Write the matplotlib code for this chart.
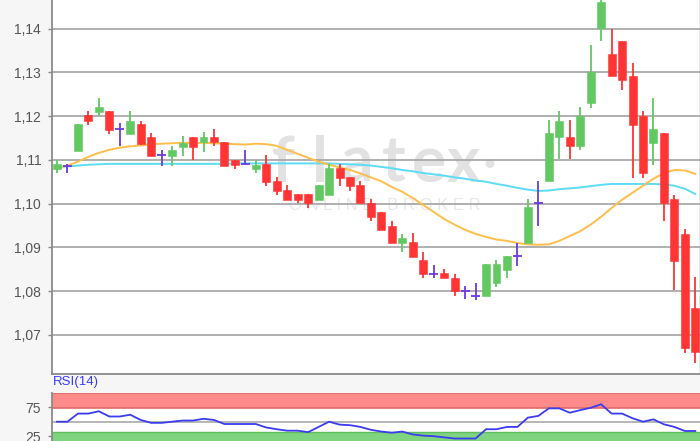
#!/usr/bin/env python3
"""Daily candlestick chart with two moving averages and an RSI(14) panel."""
import matplotlib
matplotlib.use("Agg")
import matplotlib.pyplot as plt  # noqa: E402
import numpy as np  # noqa: E402

# OHLC per session
opens = [1.1080, 1.1087, 1.1121, 1.1202, 1.1209, 1.1212, 1.1170, 1.1160, 1.1183, 1.1152,
         1.1112, 1.1109, 1.1129, 1.1152, 1.1140, 1.1152, 1.1140, 1.1100, 1.1090, 1.1079,
         1.1090, 1.1051, 1.1032, 1.1022, 1.1022, 1.1009, 1.1020, 1.1081, 1.1060, 1.1043,
         1.1001, 1.0981, 1.0950, 1.0910, 1.0912, 1.0871, 1.0839, 1.0841, 1.0831, 1.0801,
         1.0789, 1.0789, 1.0818, 1.0849, 1.0881, 1.0910, 1.1001, 1.1051, 1.1152, 1.1152,
         1.1131, 1.1231, 1.1402, 1.1342, 1.1371, 1.1291, 1.1201, 1.1138, 1.1161, 1.1010,
         1.0930, 1.0761]
highs = [1.1100, 1.1091, 1.1183, 1.1211, 1.1241, 1.1212, 1.1184, 1.1212, 1.1190, 1.1161,
         1.1123, 1.1132, 1.1154, 1.1152, 1.1163, 1.1170, 1.1140, 1.1100, 1.1123, 1.1100,
         1.1112, 1.1061, 1.1043, 1.1022, 1.1022, 1.1043, 1.1091, 1.1091, 1.1060, 1.1052,
         1.1010, 1.0981, 1.0961, 1.0931, 1.0932, 1.0890, 1.0860, 1.0850, 1.0839, 1.0812,
         1.0818, 1.0862, 1.0871, 1.0881, 1.0910, 1.1010, 1.1052, 1.1192, 1.1212, 1.1192,
         1.1221, 1.1363, 1.1480, 1.1400, 1.1371, 1.1322, 1.1212, 1.1241, 1.1161, 1.1020,
         1.0942, 1.0833]
lows = [1.1071, 1.1071, 1.1120, 1.1180, 1.1201, 1.1159, 1.1131, 1.1160, 1.1135, 1.1109,
        1.1087, 1.1087, 1.1108, 1.1100, 1.1119, 1.1131, 1.1087, 1.1079, 1.1090, 1.1070,
        1.1041, 1.1020, 1.1009, 1.1001, 1.0990, 1.1009, 1.1020, 1.1041, 1.1029, 1.1001,
        1.0961, 1.0940, 1.0910, 1.0889, 1.0879, 1.0830, 1.0830, 1.0831, 1.0789, 1.0781,
        1.0780, 1.0789, 1.0810, 1.0830, 1.0858, 1.0910, 1.0950, 1.1051, 1.1102, 1.1102,
        1.1122, 1.1218, 1.1371, 1.1291, 1.1260, 1.1058, 1.1058, 1.1089, 1.0961, 1.0803,
        1.0658, 1.0636]
closes = [1.1091, 1.1087, 1.1182, 1.1188, 1.1221, 1.1168, 1.1170, 1.1190, 1.1137, 1.1109,
          1.1112, 1.1123, 1.1138, 1.1129, 1.1152, 1.1140, 1.1087, 1.1089, 1.1090, 1.1089,
          1.1049, 1.1029, 1.1009, 1.1009, 1.1001, 1.1043, 1.1081, 1.1058, 1.1041, 1.1001,
          1.0970, 1.0940, 1.0910, 1.0921, 1.0879, 1.0839, 1.0839, 1.0831, 1.0801, 1.0801,
          1.0789, 1.0862, 1.0862, 1.0881, 1.0881, 1.0992, 1.1001, 1.1161, 1.1190, 1.1131,
          1.1201, 1.1300, 1.1460, 1.1291, 1.1282, 1.1180, 1.1070, 1.1170, 1.1001, 1.0869,
          1.0669, 1.0660]

# fast (orange) and slow (cyan) moving averages as drawn in the reference
ma_fast = [1.1082, 1.1087, 1.1096, 1.1107, 1.1116, 1.1123, 1.1128, 1.1131, 1.1133, 1.1136,
           1.1137, 1.1138, 1.1139, 1.1139, 1.1139, 1.1138, 1.1137, 1.1136, 1.1135, 1.1137,
           1.1136, 1.1132, 1.1123, 1.1114, 1.1105, 1.1096, 1.1089, 1.1083, 1.1077, 1.1069,
           1.1060, 1.1051, 1.1038, 1.1027, 1.1013, 1.0997, 1.0981, 1.0965, 1.0952, 1.0940,
           1.0931, 1.0924, 1.0918, 1.0915, 1.0910, 1.0907, 1.0906, 1.0907, 1.0915, 1.0926,
           1.0937, 1.0952, 1.0970, 1.0990, 1.1009, 1.1025, 1.1041, 1.1057, 1.1070, 1.1077,
           1.1076, 1.1068]
ma_slow = [1.1084, 1.1085, 1.1087, 1.1089, 1.1090, 1.1091, 1.1091, 1.1091, 1.1091, 1.1091,
           1.1091, 1.1091, 1.1091, 1.1091, 1.1091, 1.1091, 1.1091, 1.1092, 1.1092, 1.1092,
           1.1092, 1.1092, 1.1092, 1.1092, 1.1092, 1.1092, 1.1092, 1.1091, 1.1090, 1.1089,
           1.1087, 1.1084, 1.1081, 1.1077, 1.1074, 1.1070, 1.1067, 1.1064, 1.1060, 1.1057,
           1.1053, 1.1050, 1.1045, 1.1041, 1.1036, 1.1032, 1.1029, 1.1030, 1.1033, 1.1035,
           1.1037, 1.1040, 1.1043, 1.1045, 1.1045, 1.1045, 1.1045, 1.1045, 1.1044, 1.1041,
           1.1034, 1.1022]

rsi = [50, 50, 64, 64, 68, 59, 59, 62, 53, 48,
       48, 50, 52, 52, 55, 53, 46, 46, 46, 46,
       40, 37, 34.5, 34.5, 32, 41, 50, 45, 44, 41,
       36, 33, 31, 33, 28, 26, 25, 23, 21, 21,
       21, 37, 37, 41, 41, 57, 60, 73, 73, 65.5,
       70, 74, 80, 64, 64, 56, 50, 54, 45.5, 41,
       34, 34]

price_ticks = [1.07, 1.08, 1.09, 1.10, 1.11, 1.12, 1.13, 1.14]
rsi_ticks = [25, 75]

GREEN = "#62c862"
RED = "#ff3434"
DOJI = "#6a3cdc"
GRID = "#a9a9a9"
SPINE = "#8a8a8a"
LABEL = "#555555"
WATERMARK = "#e2e2e2"

FIG_W, FIG_H = 700, 441


def px_box(left, top, right, bottom):
    """Pixel box (top-left origin) -> figure-fraction rect."""
    return [left / FIG_W, 1 - bottom / FIG_H, (right - left) / FIG_W, (bottom - top) / FIG_H]


def draw_watermark(ax):
    # broker logo behind the candles; text lives in the axes so it sits on the white face
    fig = ax.figure
    for ch, xp in zip("flatex", (283, 320, 357, 394, 429, 464)):
        ax.text(xp / FIG_W, 1 - 163 / FIG_H, ch, transform=fig.transFigure,
                ha="center", va="center", fontsize=46, fontweight="bold",
                color=WATERMARK, zorder=0.5, family="Lato")
    ax.text(489 / FIG_W, 1 - 167 / FIG_H, "\u2022", transform=fig.transFigure,
            ha="center", va="center", fontsize=22, color=WATERMARK, zorder=0.5,
            family="DejaVu Sans")
    ax.text(385 / FIG_W, 1 - 206 / FIG_H, "O N L I N E   B R O K E R",
            transform=fig.transFigure, ha="center", va="center", fontsize=12,
            color="#e8e8e8", zorder=0.5)


def draw_candles(ax):
    x = np.arange(len(opens))
    o, h, lo, c = (np.array(v) for v in (opens, highs, lows, closes))
    colors = np.where(c > o, GREEN, np.where(c < o, RED, DOJI))

    ax.vlines(x, lo, h, colors=colors, lw=1.3, zorder=3)
    body = np.abs(c - o) > 0
    ax.bar(x[body], np.abs(c - o)[body], bottom=np.minimum(o, c)[body], width=0.76,
           color=colors[body], edgecolor=colors[body], lw=0.4, zorder=4)
    ax.hlines(c[~body], x[~body] - 0.42, x[~body] + 0.42, colors=DOJI, lw=1.3, zorder=4)


def main():
    plt.rcParams["font.family"] = ["Liberation Sans", "DejaVu Sans"]
    fig = plt.figure(figsize=(FIG_W / 100, FIG_H / 100), dpi=100)
    fig.patch.set_facecolor("#f6f6f6")

    # -- price panel -----------------------------------------------------------
    ax = fig.add_axes(px_box(52.3, -2, 699.5, 374.3))
    ax.set_facecolor("white")
    x = np.arange(len(opens))

    draw_watermark(ax)
    ax.plot(x, ma_slow, color="#5ddcf5", lw=1.4, zorder=2)
    ax.plot(x, ma_fast, color="#ffbe4a", lw=1.4, zorder=2)
    draw_candles(ax)

    ax.set_xlim(-0.45, 61.4)
    ax.set_ylim(1.0610, 1.1470)
    ax.set_yticks(price_ticks)
    ax.set_yticklabels([f"{t:.2f}".replace(".", ",") for t in price_ticks])
    ax.set_xticks([])
    ax.grid(True, axis="y", color=GRID, lw=1.3)
    ax.set_axisbelow(True)
    ax.tick_params(axis="y", length=3, width=1, color=SPINE, labelcolor=LABEL,
                   labelsize=10, pad=5)
    ax.spines["top"].set_visible(False)
    for side in ("left", "bottom", "right"):
        ax.spines[side].set_color(SPINE)
        ax.spines[side].set_linewidth(1.3)
    ax.spines["right"].set_linewidth(1.0)

    # -- RSI panel (bottom runs past the picture edge) -------------------------
    rx = fig.add_axes(px_box(52.3, 392.7, 699.5, 450.7))
    rx.set_facecolor("white")
    rx.axhspan(73.5, 100, color="#ff8a8a", lw=0, zorder=1)
    rx.axhline(73.5, color="#e06a6a", lw=1.2, zorder=2)
    rx.axhline(99.5, color="#e06a6a", lw=1.2, zorder=2)
    rx.axhspan(0, 32.5, color="#7fd47f", lw=0, zorder=1)
    rx.axhline(32.5, color="#5fbf5f", lw=1.0, zorder=2)
    rx.axhline(50, color=GRID, lw=1.2, zorder=2)
    rx.plot(x, rsi, color="#3b3bf0", lw=1.3, zorder=3)

    rx.set_xlim(-0.45, 61.4)
    rx.set_ylim(0, 100)
    rx.set_yticks(rsi_ticks)
    rx.set_xticks([])
    rx.tick_params(axis="y", length=3, width=1, color=SPINE, labelcolor=LABEL,
                   labelsize=10, pad=5)
    for side in ("top", "bottom", "right"):
        rx.spines[side].set_visible(False)
    rx.spines["left"].set_color(SPINE)
    rx.spines["left"].set_linewidth(1.3)

    fig.text(53 / FIG_W, 1 - 382.5 / FIG_H, "RSI(14)", color="#3a3aff", fontsize=9.5,
             ha="left", va="center")

    fig.savefig("out.png", dpi=100, facecolor=fig.get_facecolor())
    plt.close(fig)


if __name__ == "__main__":
    main()
